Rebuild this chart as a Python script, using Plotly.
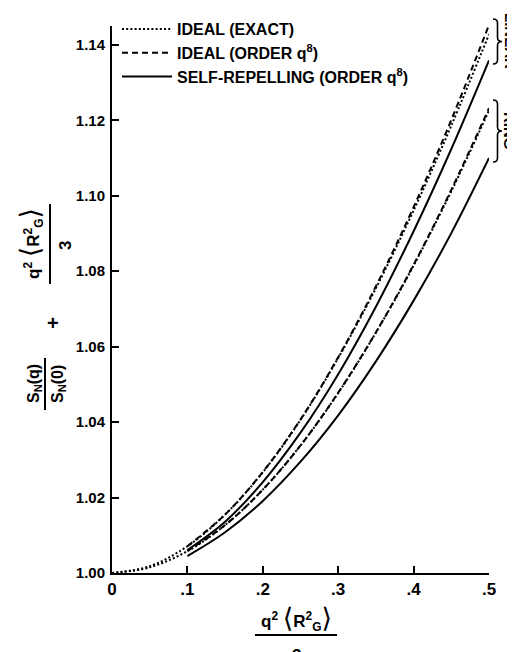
import plotly.graph_objects as go

# ---- data ----
u_full = [0.0, 0.05, 0.10, 0.15, 0.20, 0.25, 0.30, 0.35, 0.40, 0.45, 0.50]
u_part = [0.10, 0.15, 0.20, 0.25, 0.30, 0.35, 0.40, 0.45, 0.50]

linear_exact = [1.0, 1.0018, 1.0071, 1.0155, 1.0267, 1.0406, 1.0570, 1.0755, 1.0961, 1.1186, 1.1428]
ring_exact = [1.0, 1.0015, 1.0058, 1.0127, 1.0221, 1.0338, 1.0477, 1.0637, 1.0815, 1.1012, 1.1226]
linear_q8 = [1.0071, 1.0155, 1.0268, 1.0407, 1.0572, 1.0760, 1.0970, 1.1201, 1.1453]
ring_q8 = [1.0058, 1.0127, 1.0221, 1.0338, 1.0478, 1.0638, 1.0817, 1.1016, 1.1232]
linear_sr = [1.0061, 1.0136, 1.0241, 1.0372, 1.0527, 1.0706, 1.0906, 1.1124, 1.1359]
ring_sr = [1.0045, 1.0108, 1.0191, 1.0295, 1.0418, 1.0561, 1.0722, 1.0901, 1.1100]

x_ticks = [0, 0.1, 0.2, 0.3, 0.4, 0.5]
x_ticktext = ["0", ".1", ".2", ".3", ".4", ".5"]
y_ticks = [1.00, 1.02, 1.04, 1.06, 1.08, 1.10, 1.12, 1.14]
y_ticktext = ["1.00", "1.02", "1.04", "1.06", "1.08", "1.10", "1.12", "1.14"]

legend_names = ["IDEAL (EXACT)", "IDEAL (ORDER q<sup>8</sup>)", "SELF-REPELLING (ORDER q<sup>8</sup>)"]

FONT = "Liberation Sans, Arial, DejaVu Sans, sans-serif"
DOT = "2px,2.2px"
DASH = "6px,4px"

# window is 515x652; the page body adds an 8px offset
OFF = 8
W, H = 515 - OFF, 652 - OFF
PX_L, PX_R, PX_T, PX_B = 112, 489, 26, 573          # plot area in window pixels
L, R, T, B = PX_L - OFF, 515 - PX_R, PX_T - OFF, 652 - PX_B
PW, PH = PX_R - PX_L, PX_B - PX_T


def P(px, py):
    return (px - PX_L) / PW, (PX_B - py) / PH


def txt(text, px, py, size=16, angle=0, bold=True):
    x, y = P(px, py)
    return dict(text=text, x=x, y=y, xref="paper", yref="paper", showarrow=False,
                xanchor="center", yanchor="middle", textangle=angle,
                font=dict(size=size, family=FONT, color="black",
                          weight="bold" if bold else "normal"))


fig = go.Figure()
line_kw = dict(color="black", width=2, shape="spline")
fig.add_trace(go.Scatter(x=u_full, y=linear_exact, mode="lines", name=legend_names[0],
                         line=dict(dash=DOT, **line_kw), legendrank=1))
fig.add_trace(go.Scatter(x=u_full, y=ring_exact, mode="lines", name=legend_names[0],
                         line=dict(dash=DOT, **line_kw), showlegend=False))
fig.add_trace(go.Scatter(x=u_part, y=linear_q8, mode="lines", name=legend_names[1],
                         line=dict(dash=DASH, **line_kw), legendrank=2))
fig.add_trace(go.Scatter(x=u_part, y=ring_q8, mode="lines", name=legend_names[1],
                         line=dict(dash=DASH, **line_kw), showlegend=False))
fig.add_trace(go.Scatter(x=u_part, y=linear_sr, mode="lines", name=legend_names[2],
                         line=dict(dash="solid", **line_kw), legendrank=3))
fig.add_trace(go.Scatter(x=u_part, y=ring_sr, mode="lines", name=legend_names[2],
                         line=dict(dash="solid", **line_kw), showlegend=False))

annotations = []
shapes = []


def hline(xa, xb, py):
    x0, y0 = P(xa, py)
    x1, _ = P(xb, py)
    return dict(type="line", xref="paper", yref="paper", x0=x0, x1=x1, y0=y0, y1=y0,
                line=dict(color="black", width=2))


def vline(px, ya, yb):
    x0, y0 = P(px, ya)
    _, y1 = P(px, yb)
    return dict(type="line", xref="paper", yref="paper", x0=x0, x1=x0, y0=y0, y1=y1,
                line=dict(color="black", width=2))


# x-axis title: fraction q^2<R_G^2> / 3
num = ('q<sup>2</sup> <span style="font-size:27px;font-weight:normal">⟨</span>R<sup>2</sup><sub>G</sub>'
       '<span style="font-size:27px;font-weight:normal">⟩</span>')
annotations.append(txt(num, 296, 618, size=17))
shapes.append(hline(255, 337, 635))
annotations.append(txt("3", 296, 655, size=17))

# y-axis title: S_N(q)/S_N(0) + q^2<R_G^2>/3 (rotated)
annotations.append(txt("S<sub>N</sub>(q)", 34, 384, size=16, angle=-90))
shapes.append(vline(45, 358, 410))
annotations.append(txt("S<sub>N</sub>(0)", 58, 384, size=16, angle=-90))
annotations.append(txt("+", 53, 323, size=20))
annotations.append(txt(num, 31, 244, size=17, angle=-90))
shapes.append(vline(50, 204, 284))
annotations.append(txt("3", 65, 246, size=17, angle=-90))


# braces on the right
def brace(xl, ytop, ybot, w=10):
    xm = xl + w / 2
    xr = xl + w
    ym = (ytop + ybot) / 2
    pts = {
        "a": P(xl, ytop), "b": P(xm, ytop + 4), "c": P(xm, ym - 4), "d": P(xr, ym),
        "e": P(xm, ym + 4), "f": P(xm, ybot - 4), "g": P(xl, ybot),
        "q1": P(xm, ytop), "q2": P(xm, ym), "q3": P(xm, ym), "q4": P(xm, ybot),
    }
    f = lambda k: f"{pts[k][0]:.5f},{pts[k][1]:.5f}"
    path = (f"M{f('a')} Q{f('q1')} {f('b')} L{f('c')} Q{f('q2')} {f('d')} "
            f"Q{f('q3')} {f('e')} L{f('f')} Q{f('q4')} {f('g')}")
    return dict(type="path", xref="paper", yref="paper", path=path,
                line=dict(color="black", width=1.6))


shapes.append(brace(493, 19, 64, w=9))
shapes.append(brace(493, 100, 162, w=9))
annotations.append(txt("LINEAR", 510, 41, size=15, angle=90))
annotations.append(txt("RING", 510, 131, size=15, angle=90))

lx, ly = P(117, 12)
fig.update_layout(
    width=W, height=H,
    margin=dict(l=L, r=R, t=T, b=B, autoexpand=False),
    paper_bgcolor="white", plot_bgcolor="white",
    font=dict(family=FONT, size=16, color="black"),
    showlegend=True,
    legend=dict(x=lx, y=ly, xanchor="left", yanchor="top", bgcolor="rgba(0,0,0,0)",
                font=dict(size=16, family=FONT, color="black", weight="bold"), itemwidth=50,
                tracegroupgap=0),
    xaxis=dict(range=[0, 0.5], tickvals=x_ticks, ticktext=x_ticktext, showgrid=False,
               zeroline=False, showline=True, linecolor="black", linewidth=2,
               ticks="inside", ticklen=7, tickwidth=2, tickcolor="black",
               ticklabelstandoff=0,
               tickfont=dict(size=17, family=FONT, color="black", weight="bold")),
    yaxis=dict(range=[1.0, 1.145], tickvals=y_ticks, ticktext=y_ticktext, showgrid=False,
               zeroline=False, showline=True, linecolor="black", linewidth=2,
               ticks="inside", ticklen=7, tickwidth=2, tickcolor="black",
               ticklabelstandoff=2,
               tickfont=dict(size=15, family=FONT, color="black", weight="bold")),
    annotations=annotations,
    shapes=shapes,
)

fig.write_html("out.html")
